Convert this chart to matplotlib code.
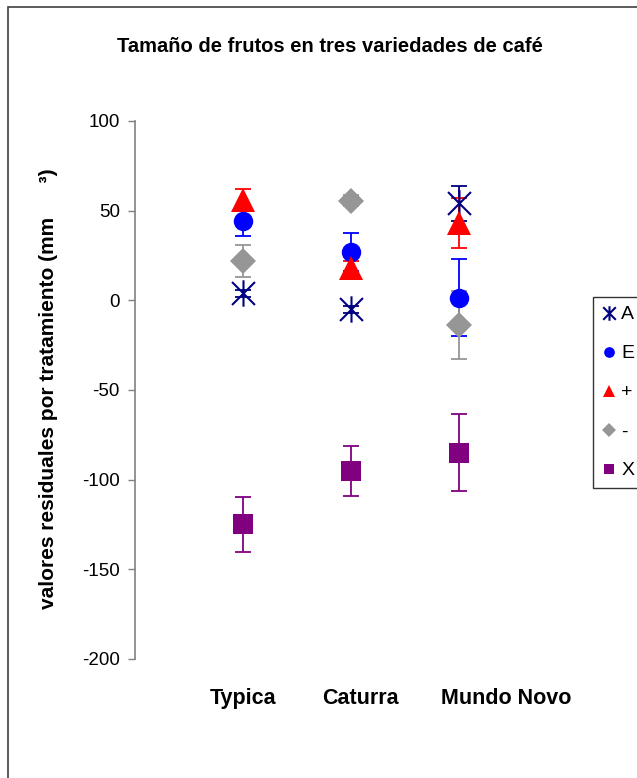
import matplotlib
matplotlib.use("Agg")
import matplotlib.pyplot as plt
from matplotlib.path import Path
from matplotlib.patches import Rectangle

plt.rcParams["font.family"] = ["Liberation Sans", "DejaVu Sans"]
plt.rcParams["axes.unicode_minus"] = False

variedades = ["Typica", "Caturra", "Mundo Novo"]
# posicion de las etiquetas del eje x (Excel las corre a la derecha)
pos_etiquetas = [1.0, 2.09, 3.44]
series = ["A", "E", "+", "-", "X"]

valores = {
    "A": [4, -5, 54],
    "E": [44, 27, 1.5],
    "+": [56, 18, 43],
    "-": [22, 55.5, -14],
    "X": [-125, -95, -85],
}
errores = {
    "A": [2, 2, 10],
    "E": [8, 10.5, 21.5],
    "+": [6, 4, 14],
    "-": [9, 3, 19],
    "X": [15.5, 14, 21.5],
}

asterisco = Path(
    [(-1, -1), (1, 1), (-1, 1), (1, -1), (0, -1.15), (0, 1.15)],
    [Path.MOVETO, Path.LINETO, Path.MOVETO, Path.LINETO, Path.MOVETO, Path.LINETO],
)

estilos = {
    "A": dict(marker=asterisco, color="#000080", ms=19, mfc="none", mew=1.5),
    "E": dict(marker="o", color="#0000ff", ms=14, mew=0),
    "+": dict(marker="^", color="#ff0000", ms=17, mew=0),
    "-": dict(marker="D", color="#969696", ms=13, mew=0),
    "X": dict(marker="s", color="#800080", ms=14, mew=0),
}

fig = plt.figure(figsize=(6.37, 7.78), dpi=100)
ax = fig.add_axes([0.212, 0.153, 0.678, 0.6915])

x = range(1, len(variedades) + 1)
for i, s in enumerate(series):
    st = estilos[s]
    ax.errorbar(x, valores[s], yerr=errores[s], fmt="none", ecolor=st["color"],
                elinewidth=1.3, capsize=5.5, capthick=1.3, zorder=2 + i * 0.01)
for i, s in enumerate(series):
    st = estilos[s]
    ax.plot(x, valores[s], linestyle="none", marker=st["marker"], color=st["color"],
            markersize=st["ms"], markerfacecolor=st.get("mfc", st["color"]),
            markeredgewidth=st["mew"], label=s, zorder=3 + i * 0.01)

ax.set_xlim(0, 4)
ax.set_ylim(-200, 100)
ax.set_yticks(range(-200, 101, 50))
ax.set_xticks(pos_etiquetas)
ax.set_xticklabels(variedades, fontweight="bold", fontsize=15.5)
ax.tick_params(axis="x", length=0, pad=21)
ax.tick_params(axis="y", length=5, color="#808080", width=1, labelsize=13.5, pad=6)
for lado in ["top", "right", "bottom"]:
    ax.spines[lado].set_visible(False)
ax.spines["left"].set_color("#808080")
ax.spines["left"].set_linewidth(1.2)

ax.set_ylabel("valores residuales por tratamiento (mm      \u00b3)", fontweight="bold",
              fontsize=15)
ax.yaxis.set_label_coords(58 / 637, 0.5, transform=fig.transFigure)

fig.text(330 / 637, 1 - 47 / 778, "Tamaño de frutos en tres variedades de café",
         ha="center", va="center", fontweight="bold", fontsize=14.5)

leg = ax.legend(loc="upper left", bbox_to_anchor=(593 / 637, 1 - 297 / 778),
                bbox_transform=fig.transFigure, frameon=True, fancybox=False,
                edgecolor="black", fontsize=14, markerscale=0.55, handlelength=0.7,
                handletextpad=0.3, labelspacing=1.1, borderpad=0.45, borderaxespad=0)
leg.get_frame().set_linewidth(1.0)

fig.add_artist(Rectangle((8 / 637, -0.2), 1.5, 0.2 + (1 - 7 / 778),
                         transform=fig.transFigure, fill=False,
                         edgecolor="#404040", linewidth=1.2))

fig.savefig("out.png", dpi=100)
